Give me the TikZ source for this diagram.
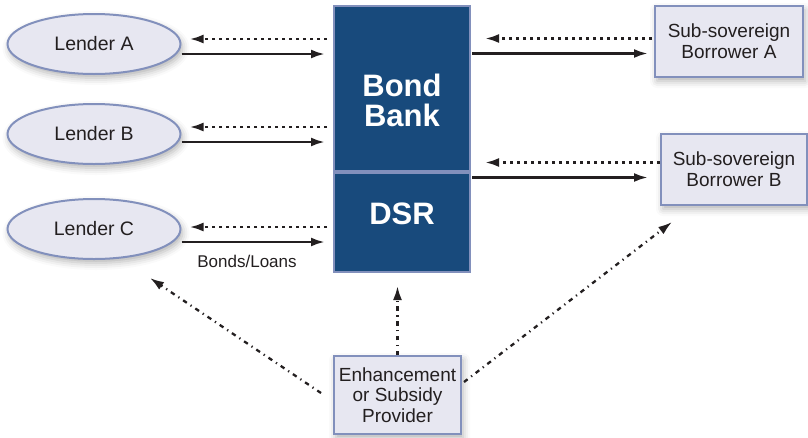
\documentclass[tikz,border=0pt]{standalone}
\usepackage{fontspec}
\setmainfont{Liberation Sans}
\usetikzlibrary{arrows.meta,calc,shadows.blur,shapes.geometric,backgrounds}

\definecolor{bankblue}{HTML}{184A7C}
\definecolor{rimblue}{HTML}{8290BC}
\definecolor{paleface}{HTML}{E7E7F1}
\definecolor{inkgray}{HTML}{231F20}

\tikzstyle{softshadow} = [blur shadow={shadow xshift=2pt,shadow yshift=-4pt,shadow blur radius=7pt,shadow opacity=30}]
\tikzstyle{lender} = [ellipse,draw=rimblue,line width=2pt,fill=paleface,minimum width=173pt,minimum height=60pt,inner sep=0pt,text=inkgray,font=\fontsize{19.5}{22}\selectfont,softshadow]
\tikzstyle{party} = [rectangle,draw=rimblue,line width=2pt,fill=paleface,align=center,inner sep=0pt,text=inkgray,font=\fontsize{19}{21}\selectfont,softshadow]
\tikzstyle{bankpart} = [rectangle,draw=rimblue,line width=2pt,fill=bankblue,minimum width=136pt,inner sep=0pt]
\tikzstyle{banktext} = [text=white,align=center,font=\fontsize{31}{30}\selectfont\bfseries]
\tikzstyle{flow} = [draw=inkgray,line width=2.6pt,-{Latex[length=14pt,width=9pt]}]
\tikzstyle{claim} = [flow,dash pattern=on 3.5pt off 3.5pt]
\tikzstyle{support} = [flow,line width=2.3pt,dash pattern=on 4.5pt off 4.5pt on 1.2pt off 4.5pt]

\begin{document}
\begin{tikzpicture}[x=1pt,y=-1pt]
    \useasboundingbox (0,0) rectangle (808,437);

    %% bond bank with its reserve
    \node[bankpart,minimum height=165pt,
          label={[banktext,yshift=-12pt]center:Bond\\Bank}] (bank) at (402,88.5) {};
    \node[bankpart,minimum height=99pt,anchor=north,
          label={[banktext,yshift=9pt]center:DSR}] (dsr) at (bank.south) {};
    \begin{pgfonlayer}{background}
      \path[softshadow] (bank.north west) rectangle (dsr.south east);
    \end{pgfonlayer}

    %% lenders
    \foreach \name/\value/\y in {lenderA/Lender A/44, lenderB/Lender B/134, lenderC/Lender C/229}
    {
      \node[lender] (\name) at (94,\y) {\value};
    }

    %% borrowers and provider
    \node[party,minimum width=148pt,minimum height=71pt] (borrowerA) at (729,41.5) {Sub-sovereign\\Borrower A};
    \node[party,minimum width=146pt,minimum height=71pt] (borrowerB) at (734,169.5) {Sub-sovereign\\Borrower B};
    \node[party,minimum width=127pt,minimum height=78pt,font=\fontsize{19}{20.5}\selectfont] (provider) at (397.5,395) {Enhancement\\or Subsidy\\Provider};

    %% lender edges
    \foreach \name/\target/\dy/\sy in {lenderA/bank/5/10, lenderB/bank/7/8, lenderC/dsr/2/13}
    {
      \draw[claim] ($(\target.west |- \name.center)+(-6,-\dy)$) -- ($(\name.east)+(8,-\dy)$);
      \draw[flow] ($(\name.east)+(0,\sy)$) -- ($(\target.west |- \name.center)+(-8,\sy)$);
    }
    \node[text=inkgray,font=\fontsize{17}{20}\selectfont] (bondsloans) at (247,261) {Bonds/Loans};

    %% borrower edges
    \draw[claim] ($(borrowerA.west)+(-2,-3)$) -- ($(bank.east |- borrowerA.center)+(14,-3)$);
    \draw[flow] ($(bank.east |- borrowerA.center)+(1,12)$) -- ($(borrowerA.west)+(-6,12)$);
    \draw[claim] ($(borrowerB.west)+(0,-7)$) -- ($(bank.east |- borrowerB.center)+(14,-7)$);
    \draw[flow] ($(bank.east |- borrowerB.center)+(1,8)$) -- ($(borrowerB.west)+(-12,8)$);

    %% support from the provider
    \draw[support] ($(provider.west)+(-12,-2)$) -- ($(lenderC.south)+(56,18)$);
    \draw[support] (provider.north) -- ($(provider.north |- dsr.south)+(0,13)$);
    \draw[support] ($(provider.east)+(2,-13)$) -- ($(borrowerB.south west)+(12,16)$);
\end{tikzpicture}
\end{document}
